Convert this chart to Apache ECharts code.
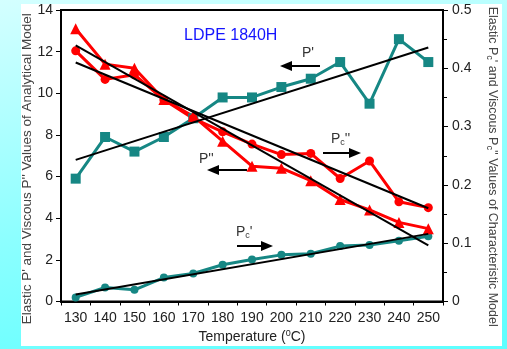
<!DOCTYPE html>
<html>
<head>
<meta charset="utf-8">
<script src="https://cdn.jsdelivr.net/npm/echarts@6/dist/echarts.min.js"></script>
<style>
  html, body { margin: 0; padding: 0; }
  body { width: 507px; height: 349px; overflow: hidden; position: relative;
         background: linear-gradient(170deg, #d4ffff 0%, #8cffff 55%, #5cffff 100%); }
  #panel { position: absolute; left: 21px; top: 4px; width: 481px; height: 342px; background: #fff; }
  #chart { position: absolute; left: 0; top: 0; width: 507px; height: 349px; }
</style>
</head>
<body>
<div id="panel"></div>
<div id="chart"></div>
<script>
// temperatures (°C)
var temps = ['130', '140', '150', '160', '170', '180', '190', '200', '210', '220', '230', '240', '250']
// analytical model, left axis
var pStorage = [5.9, 7.9, 7.2, 7.9, 8.8, 9.8, 9.8, 10.3, 10.7, 11.5, 9.5, 12.6, 11.5]
var pLoss = [13.1, 11.4, 11.2, 9.7, 8.9, 7.7, 6.5, 6.4, 5.8, 4.9, 4.4, 3.8, 3.5]
// characteristic model, right axis
var pcStorage = [0.007, 0.024, 0.020, 0.041, 0.048, 0.063, 0.072, 0.080, 0.082, 0.095, 0.097, 0.104, 0.112]
var pcLoss = [0.430, 0.381, 0.389, 0.346, 0.314, 0.291, 0.270, 0.252, 0.254, 0.211, 0.241, 0.171, 0.161]
// fitted lines: values at 130 and 250
var pStorageFit = [6.8, 12.2]
var pLossFit = [12.3, 2.7]
var pcStorageFit = [0.012, 0.116]
var pcLossFit = [0.410, 0.160]

var teal = '#168784'
var red = '#ff0000'
var font = 'Arial, "Liberation Sans", sans-serif'

function fitData(ends) {
  var d = temps.map(function () { return null })
  d[0] = ends[0]
  d[d.length - 1] = ends[1]
  return d
}

function arrow(x1, x2, y) {
  var dir = x2 > x1 ? 1 : -1
  return {
    type: 'group',
    children: [
      { type: 'line', shape: { x1: x1, y1: y, x2: x2 - dir * 8, y2: y }, style: { stroke: '#000', lineWidth: 2 } },
      { type: 'polygon', shape: { points: [[x2, y], [x2 - dir * 12, y - 5], [x2 - dir * 12, y + 5]] }, style: { fill: '#000' } }
    ]
  }
}

var subRich = {
  sub: { fontSize: 9, verticalAlign: 'bottom', padding: [6, 0, 0, 0], fontFamily: font, color: '#333' }
}

function label(x, y, text) {
  return {
    type: 'text', x: x, y: y,
    style: { text: text, font: '14px ' + font, fill: '#333', rich: subRich }
  }
}

var chart = echarts.init(document.getElementById('chart'))
var option = {
  animation: false,
  backgroundColor: 'transparent',
  grid: { left: 61, right: 55, top: 10, bottom: 45, show: true, borderColor: '#000', borderWidth: 2, backgroundColor: 'transparent' },
  xAxis: {
    type: 'category',
    data: temps,
    boundaryGap: true,
    name: 'Temperature ({sup|0}C)',
    nameLocation: 'middle',
    nameGap: 28,
    nameMoveOverlap: false,
    nameTextStyle: { fontSize: 14, color: '#222', fontFamily: font, rich: { sup: { fontSize: 9, verticalAlign: 'top', padding: [0, 0, 6, 0], fontFamily: font, color: '#222' } } },
    axisLine: { lineStyle: { color: '#000', width: 2 } },
    axisTick: { show: true, length: 4, lineStyle: { color: '#000' } },
    axisLabel: { interval: 0, fontSize: 14, color: '#222', fontFamily: font, margin: 10 },
    splitLine: { show: false }
  },
  yAxis: [{
    type: 'value',
    min: 0, max: 14, interval: 2,
    name: "Elastic P' and Viscous P'' Values of Analytical Model",
    nameLocation: 'middle',
    nameGap: 27,
    nameMoveOverlap: false,
    nameTextStyle: { fontSize: 13.5, color: '#444', fontFamily: font, padding: [0, 26, 0, 0] },
    axisLine: { show: true, lineStyle: { color: '#000', width: 2 } },
    axisTick: { show: true, length: 5, lineStyle: { color: '#000' } },
    axisLabel: { fontSize: 14, color: '#222', fontFamily: font, margin: 8 },
    splitLine: { show: false }
  }, {
    type: 'value',
    min: 0, max: 0.5, interval: 0.1,
    position: 'right',
    name: "Elastic P{sub|c}' and Viscous P{sub|c}'' Values of Characteristic Model",
    nameLocation: 'middle',
    nameGap: 42,
    nameMoveOverlap: false,
    nameRotate: -90,
    nameTextStyle: { fontSize: 12.5, color: '#444', fontFamily: font, padding: [0, 0, 0, 22], rich: subRich },
    axisLine: { show: true, lineStyle: { color: '#000', width: 2 } },
    axisTick: { show: true, length: 5, lineStyle: { color: '#000' } },
    minorTick: { show: true, splitNumber: 2, length: 4, lineStyle: { color: '#000' } },
    axisLabel: { fontSize: 14, color: '#222', fontFamily: font, margin: 9,
      formatter: function (v) { return v === 0 ? '0' : v.toFixed(1) } },
    splitLine: { show: false }
  }],
  series: [{
    name: "P'", type: 'line', yAxisIndex: 0, data: pStorage,
    symbol: 'rect', symbolSize: 10,
    lineStyle: { color: teal, width: 3 }, itemStyle: { color: teal }
  }, {
    name: "Pc'", type: 'line', yAxisIndex: 1, data: pcStorage,
    symbol: 'circle', symbolSize: 8,
    lineStyle: { color: teal, width: 3 }, itemStyle: { color: teal }
  }, {
    name: "P''", type: 'line', yAxisIndex: 0, data: pLoss,
    symbol: 'triangle', symbolSize: 11,
    lineStyle: { color: red, width: 3 }, itemStyle: { color: red }
  }, {
    name: "Pc''", type: 'line', yAxisIndex: 1, data: pcLoss,
    symbol: 'circle', symbolSize: 9,
    lineStyle: { color: red, width: 3 }, itemStyle: { color: red }
  }, {
    name: "P' fit", type: 'line', yAxisIndex: 0, data: fitData(pStorageFit), connectNulls: true,
    symbol: 'none', lineStyle: { color: '#000', width: 2 }, z: 5
  }, {
    name: "P'' fit", type: 'line', yAxisIndex: 0, data: fitData(pLossFit), connectNulls: true,
    symbol: 'none', lineStyle: { color: '#000', width: 2 }, z: 5
  }, {
    name: "Pc' fit", type: 'line', yAxisIndex: 1, data: fitData(pcStorageFit), connectNulls: true,
    symbol: 'none', lineStyle: { color: '#000', width: 2 }, z: 5
  }, {
    name: "Pc'' fit", type: 'line', yAxisIndex: 1, data: fitData(pcLossFit), connectNulls: true,
    symbol: 'none', lineStyle: { color: '#000', width: 2 }, z: 5
  }],
  graphic: [
    { type: 'text', x: 184, y: 28, style: { text: 'LDPE 1840H', font: '16px ' + font, fill: '#1414ff' } },
    label(302, 46, "P'"),
    arrow(320, 280, 66),
    label(199, 152, "P''"),
    arrow(247, 207, 170),
    label(331, 132, "P{sub|c}''"),
    arrow(323, 361, 153),
    label(236, 225, "P{sub|c}'"),
    arrow(237, 273, 246)
  ]
}
chart.setOption(option)
</script>
</body>
</html>
